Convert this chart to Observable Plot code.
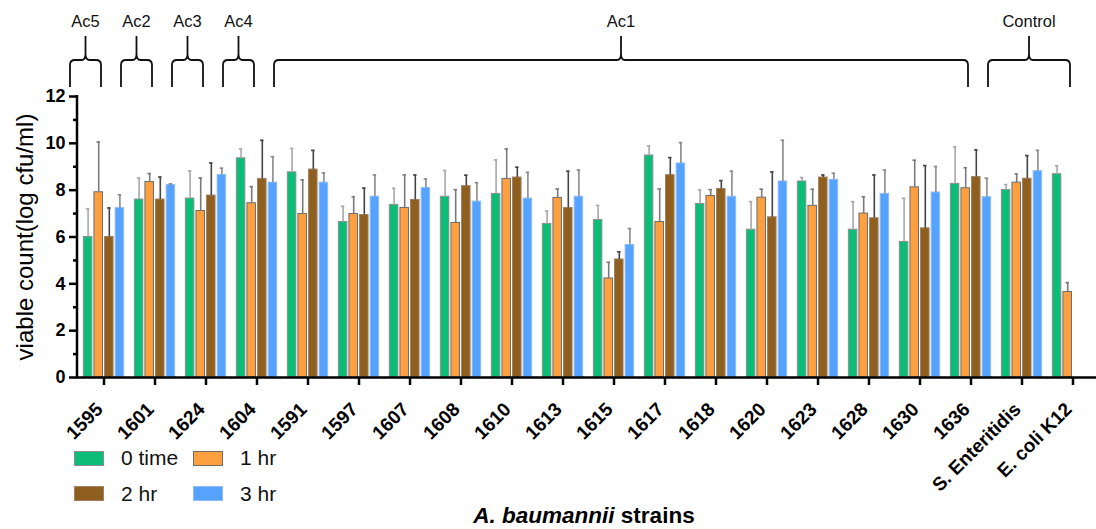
<!DOCTYPE html>
<html>
<head>
<meta charset="utf-8">
<script src="https://cdn.jsdelivr.net/npm/d3@7"></script>
<script src="https://cdn.jsdelivr.net/npm/@observablehq/plot@0.6"></script>
<style>
  body { margin: 0; background: #fff; font-family: "Liberation Sans", Arial, sans-serif; }
  #wrap { position: relative; width: 1096px; height: 529px; overflow: hidden; }
  #legend { position: absolute; left: 74px; top: 449px; }
  .item { position: absolute; display: flex; align-items: center; font-size: 21px; color: #111; white-space: nowrap; height: 18px; }
  .sw { width: 30px; height: 15px; margin-right: 17px; box-sizing: border-box; border: 1px solid #888; }
  #xtitle { position: absolute; left: 584px; top: 504px; transform: translateX(-50%); font-size: 22.5px; line-height: 24px; font-weight: bold; white-space: nowrap; color: #000; }
</style>
</head>
<body>
<div id="wrap">
  <div id="chart"></div>
  <div id="legend"></div>
  <div id="xtitle"><i>A. baumannii</i> strains</div>
</div>
<script>
// Strains on the x axis
const strains = ["1595", "1601", "1624", "1604", "1591", "1597", "1607", "1608", "1610", "1613",
  "1615", "1617", "1618", "1620", "1623", "1628", "1630", "1636", "S. Enteritidis", "E. coli K12"];

// Sampling times
const times = ["0 time", "1 hr", "2 hr", "3 hr"];

// Mean viable count (log cfu/ml) per strain at each time
const mean0 = [6.00, 7.60, 7.64, 9.36, 8.76, 6.64, 7.37, 7.72, 7.84, 6.56, 6.73, 9.48, 7.41, 6.31, 8.37, 6.31, 5.79, 8.27, 8.01, 8.68];
const mean1 = [7.91, 8.35, 7.11, 7.44, 6.98, 6.98, 7.24, 6.60, 8.48, 7.67, 4.23, 6.64, 7.75, 7.68, 7.33, 7.00, 8.12, 8.08, 8.32, 3.65];
const mean2 = [6.00, 7.60, 7.77, 8.48, 8.88, 6.94, 7.58, 8.17, 8.54, 7.24, 5.04, 8.64, 8.05, 6.84, 8.54, 6.80, 6.37, 8.56, 8.49, null];
const mean3 = [7.23, 8.22, 8.65, 8.32, 8.32, 7.72, 8.09, 7.51, 7.64, 7.72, 5.66, 9.14, 7.72, 8.37, 8.44, 7.84, 7.90, 7.70, 8.81, null];

// Standard deviations (upper error bars)
const sd0 = [1.21, 0.92, 1.18, 0.40, 1.02, 0.67, 0.71, 1.12, 1.45, 0.55, 0.62, 0.41, 0.60, 1.20, 0.17, 1.20, 1.86, 1.58, 0.23, 0.36];
const sd1 = [2.15, 0.36, 1.41, 0.71, 1.46, 0.74, 1.41, 1.42, 1.28, 0.38, 0.69, 1.41, 0.27, 0.36, 0.71, 0.72, 1.16, 0.88, 0.37, 0.40];
const sd2 = [1.24, 0.96, 1.39, 1.65, 0.82, 1.15, 1.07, 0.47, 0.44, 1.57, 0.33, 0.75, 0.36, 1.94, 0.11, 1.85, 2.68, 1.16, 0.99, null];
const sd3 = [0.57, 0.05, 0.29, 1.11, 0.42, 0.93, 0.39, 0.81, 1.12, 1.14, 0.70, 0.89, 1.09, 1.76, 0.28, 1.02, 1.11, 0.81, 0.89, null];

// y axis ticks: labelled majors and unlabelled minors
const yMajor = [0, 2, 4, 6, 8, 10, 12];
const yMinor = [1, 3, 5, 7, 9, 11];

// Strain groups marked with braces above the bars
const groupLabels = ["Ac5", "Ac2", "Ac3", "Ac4", "Ac1", "Control"];
const groupFirst = ["1595", "1601", "1624", "1604", "1591", "S. Enteritidis"];
const groupLast = ["1595", "1601", "1624", "1604", "1636", "E. coli K12"];

const fills = ["#0bbd77", "#ffa040", "#8f5f1f", "#55a2ff"];
const edges = ["#8d8d8d", "#6c6c6c", "#a08060", "#8cbcfa"];
const whiskers = ["#a9a9a9", "#7a7a7a", "#444444", "#8a8a8a"];

const means = [mean0, mean1, mean2, mean3];
const sds = [sd0, sd1, sd2, sd3];
const rows = [];
times.forEach((t, k) => strains.forEach((s, i) => {
  if (means[k][i] != null) rows.push({strain: s, time: t, k, value: means[k][i], sd: sds[k][i]});
}));

const W = 1096, H = 529;
const left = 77, right = 1099;
const step = (right - left) / strains.length;
const slot = 10.6, barWidth = 8.6;
const barInset = (step - barWidth) / 2;
const capInset = step / 2 - 1.8;

// Axis line and the group braces, drawn with the plot's own scales
function annotations(index, scales, values, dimensions) {
  const x = scales.x, y = scales.y;
  const bw = typeof x.bandwidth === "function" ? x.bandwidth() : (x.bandwidth ?? step);
  const g = d3.create("svg:g");
  const top = y(12), base = y(0);
  g.append("line")
    .attr("x1", dimensions.marginLeft).attr("x2", dimensions.marginLeft)
    .attr("y1", top - 1).attr("y2", base + 1.25)
    .attr("stroke", "#000").attr("stroke-width", 2.5);
  const yB = top - 9, yH = top - 36, yP = top - 60, r = 5;
  groupLabels.forEach((label, j) => {
    const a = x(groupFirst[j]) - 8;
    const b = x(groupLast[j]) + bw - 28;
    const c = (a + b) / 2;
    const p = d3.path();
    p.moveTo(a, yB); p.lineTo(a, yH + r); p.quadraticCurveTo(a, yH, a + r, yH);
    p.lineTo(c - 4, yH); p.quadraticCurveTo(c, yH, c, yH - 6); p.lineTo(c, yP);
    p.moveTo(c, yH - 6); p.quadraticCurveTo(c, yH, c + 4, yH);
    p.lineTo(b - r, yH); p.quadraticCurveTo(b, yH, b, yH + r); p.lineTo(b, yB);
    g.append("path").attr("d", p.toString()).attr("fill", "none")
      .attr("stroke", "#111").attr("stroke-width", 1.8);
    g.append("text").attr("x", c).attr("y", top - 69).attr("text-anchor", "middle")
      .attr("font-size", 16.5).attr("fill", "#111").text(label);
  });
  return g.node();
}

const marks = [];
times.forEach((t, k) => {
  const data = rows.filter(d => d.k === k);
  const off = (k - 1.5) * slot;
  marks.push(Plot.barY(data, {
    x: "strain", y: "value", dx: off, insetLeft: barInset, insetRight: barInset,
    fill: fills[k], stroke: edges[k], strokeWidth: 1
  }));
  marks.push(Plot.ruleX(data, {
    x: "strain", y1: "value", y2: d => d.value + d.sd, dx: off,
    stroke: whiskers[k], strokeWidth: 1.6
  }));
  marks.push(Plot.tickY(data, {
    x: "strain", y: d => d.value + d.sd, dx: off, insetLeft: capInset, insetRight: capInset,
    stroke: whiskers[k], strokeWidth: 1.6
  }));
});

const chart = Plot.plot({
  width: W,
  height: H,
  marginLeft: left,
  marginRight: 0,
  marginTop: 96,
  marginBottom: H - 377,
  style: {fontFamily: "'Liberation Sans', Arial, sans-serif", color: "#000", background: "#fff", overflow: "visible"},
  x: {type: "band", domain: strains, range: [left, right], padding: 0, axis: null},
  y: {domain: [0, 12], axis: null},
  marks: [
    ...marks,
    Plot.ruleY([0], {stroke: "#000", strokeWidth: 2.5}),
    // y ticks and labels
    Plot.axisY({ticks: yMajor, tickSize: 8, strokeWidth: 2.5, tickFormat: () => "", label: null}),
    Plot.axisY({ticks: yMinor, tickSize: 4, strokeWidth: 2.5, tickFormat: () => "", label: null}),
    Plot.text(yMajor, {y: d => d, frameAnchor: "left", dx: -12, textAnchor: "end",
      fontSize: 18, fontWeight: "bold", fill: "#000"}),
    // x ticks and rotated labels
    Plot.axisX({tickSize: 8, strokeWidth: 2.5, tickFormat: () => "", label: null}),
    Plot.text(strains, {x: d => d, frameAnchor: "bottom", rotate: -45, textAnchor: "end",
      dx: 0, dy: 33, fontSize: 19, fontWeight: "bold", fill: "#000"}),
    Plot.text(["viable count(log cfu/ml)"], {frameAnchor: "left", textAnchor: "middle", rotate: -90,
      dx: -52, fontSize: 24, fill: "#000"}),
    annotations
  ]
});
document.getElementById("chart").appendChild(chart);

// Legend: two columns, two rows
const legend = document.getElementById("legend");
times.forEach((t, k) => {
  const item = document.createElement("div");
  item.className = "item";
  item.style.left = (k % 2) * 119 + "px";
  item.style.top = Math.floor(k / 2) * 35.5 + "px";
  const sw = document.createElement("span");
  sw.className = "sw";
  sw.style.background = fills[k];
  sw.style.borderColor = edges[k];
  item.appendChild(sw);
  item.appendChild(document.createTextNode(t));
  legend.appendChild(item);
});
</script>
</body>
</html>
